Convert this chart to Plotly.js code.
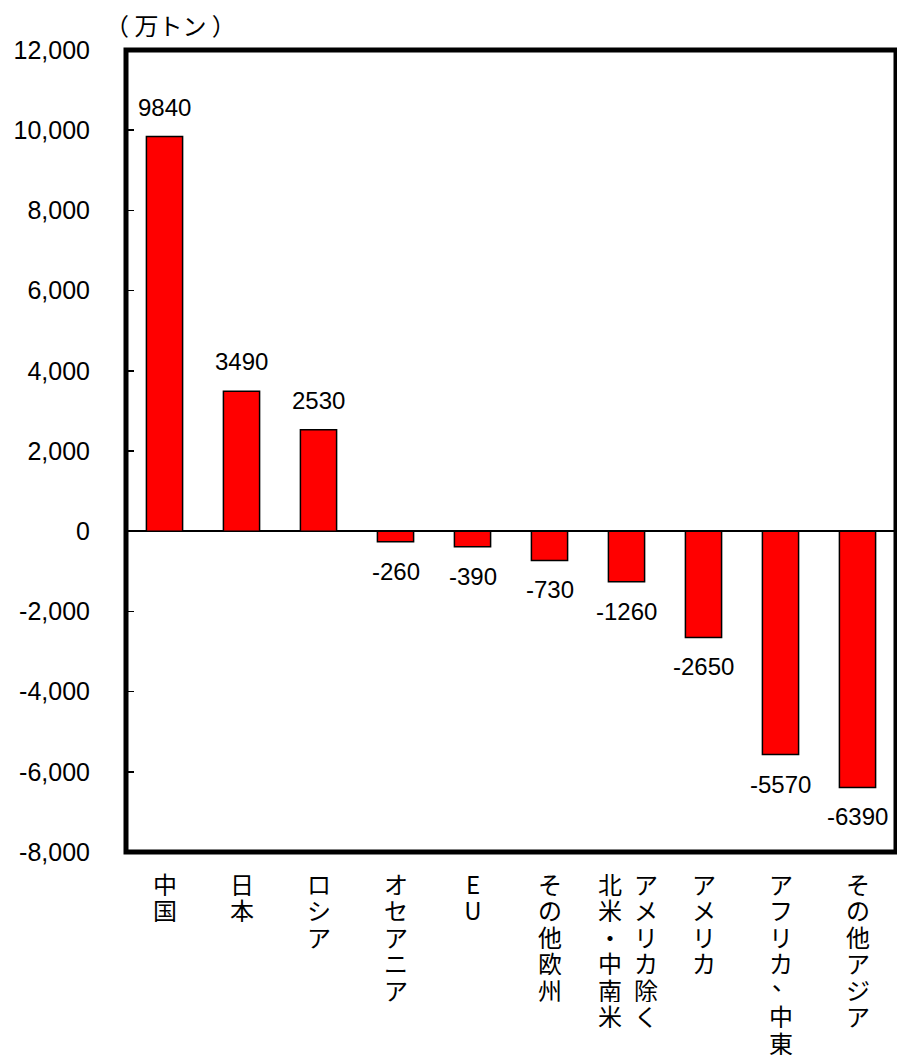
<!DOCTYPE html>
<html>
<head>
<meta charset="utf-8">
<script src="https://cdn.plot.ly/plotly-3.0.1.min.js"></script>
<style>html,body{margin:0;padding:0;background:#fff;}#chart{width:897px;height:1056px;}</style>
</head>
<body>
<div id="chart"></div>
<script>
// ---- data ----
const categories = ["中国","日本","ロシア","オセアニア","EU","その他欧州","アメリカ除く北米・中南米","アメリカ","アフリカ、中東","その他アジア"];
const labelColumns = [["中国"],["日本"],["ロシア"],["オセアニア"],["EU"],["その他欧州"],["アメリカ除く","北米・中南米"],["アメリカ"],["アフリカ、中東"],["その他アジア"]];
const values = [9840, 3490, 2530, -260, -390, -730, -1260, -2650, -5570, -6390];
const tickValues = [-8000, -6000, -4000, -2000, 0, 2000, 4000, 6000, 8000, 10000, 12000];
const tickLabels = ["-8,000", "-6,000", "-4,000", "-2,000", "0", "2,000", "4,000", "6,000", "8,000", "10,000", "12,000"];
const unitLabel = "（ 万トン ）";
const yRange = [-8000, 12000];

// ---- styles ----
const numFont = {family: "Liberation Sans, Arial, sans-serif", size: 24, color: "#000"};
const tickFont = {family: "Liberation Sans, Arial, sans-serif", size: 25, color: "#000"};
const jpFont = {family: "Noto Sans CJK JP, sans-serif", size: 24, color: "#000"};
const charPitch = 26.5;
const firstCharOffset = 31;

const annotations = [];
// value labels
values.forEach((v, i) => {
  annotations.push({
    x: categories[i], y: v, xref: "x", yref: "y",
    text: String(v), showarrow: false, font: numFont,
    yanchor: v >= 0 ? "bottom" : "top",
    yshift: v >= 0 ? 14 : -14
  });
});
// vertical category labels
labelColumns.forEach((cols, i) => {
  const n = cols.length;
  cols.forEach((col, c) => {
    let xs = 0;
    if (n === 2) xs = c === 0 ? 19 : -17;
    Array.from(col).forEach((ch, j) => {
      let dx = 0, dy = 0;
      if (ch === "、") { dx = 3; dy = 10; }
      annotations.push({
        x: categories[i], y: 0, xref: "x", yref: "paper",
        text: ch, showarrow: false, font: jpFont,
        width: 26, height: 25, borderpad: 0,
        xanchor: "center", yanchor: "middle",
        xshift: xs + dx, yshift: -(firstCharOffset + j * charPitch) + dy
      });
    });
  });
});
// unit label
annotations.push({
  x: 0, y: 1, xref: "paper", yref: "paper", text: unitLabel, showarrow: false,
  font: jpFont, xanchor: "center", yanchor: "middle", xshift: 44.5, yshift: 26
});

const trace = {
  type: "bar", x: categories, y: values,
  marker: {color: "#FF0000", line: {color: "#000", width: 1.5}},
  hoverinfo: "skip"
};

const layout = {
  width: 897, height: 1056,
  margin: {l: 125.5, r: 1, t: 49.5, b: 204, pad: 0},
  paper_bgcolor: "#fff", plot_bgcolor: "#fff",
  showlegend: false,
  bargap: 0.53,
  xaxis: {type: "category", showticklabels: false, ticks: "", showgrid: false, zeroline: false, showline: false, range: [-0.5, 9.5], fixedrange: true},
  yaxis: {range: yRange, tickmode: "array", tickvals: tickValues, ticktext: tickLabels, showgrid: false,
          zeroline: true, zerolinecolor: "#000", zerolinewidth: 2,
          ticks: "inside", ticklen: 8, tickwidth: 1.5, tickcolor: "#000",
          showline: false, tickfont: tickFont, ticklabelstandoff: 35, fixedrange: true},
  shapes: [{type: "rect", xref: "paper", yref: "paper", x0: 0, x1: 1, y0: 0, y1: 1,
            line: {color: "#000", width: 5}, fillcolor: "rgba(0,0,0,0)", layer: "above"}],
  annotations: annotations
};

Plotly.newPlot("chart", [trace], layout, {displayModeBar: false, staticPlot: true});
</script>
</body>
</html>
